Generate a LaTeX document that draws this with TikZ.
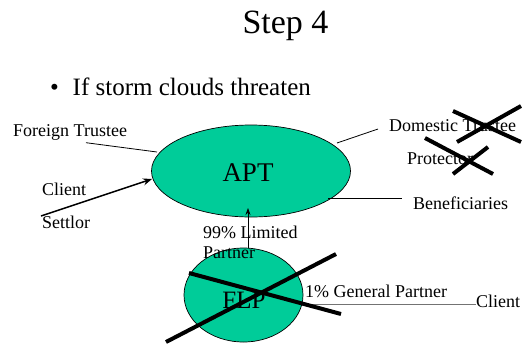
\documentclass[tikz,border=0pt]{standalone}
\usepackage{fontspec}
\setmainfont{Liberation Serif}
\usetikzlibrary{shapes.geometric,arrows.meta}
\definecolor{entfill}{RGB}{0,204,153}
\begin{document}
\begin{tikzpicture}[x=1pt,y=-1pt,
  lbl/.style={inner sep=0pt,anchor=base west,font=\fontsize{18}{20}\selectfont},
  ent/.style={ellipse,draw=black,line width=0.7pt,fill=entfill,inner sep=0pt},
  thin/.style={draw=black,line width=0.8pt},
  crossline/.style={draw=black,line width=4pt}]
\useasboundingbox (0,0) rectangle (524,343);
% title and bullet
\node[inner sep=0pt,anchor=base,font=\fontsize{34}{38}\selectfont] (title) at (285.5,33) {Step 4};
\node[inner sep=0pt,anchor=base west,font=\fontsize{25}{28}\selectfont] (bullet) at (50,95) {\textbullet\hspace{0.55em}If storm clouds threaten};
% entities
\node[ent,minimum width=199pt,minimum height=92pt] (apt) at (251,171) {};
\node[font=\fontsize{27}{30}\selectfont,inner sep=0pt] (apttxt) at (248,173) {APT};
\node[ent,minimum width=119pt,minimum height=94pt] (flp) at (243.5,295) {};
\node[font=\fontsize{25}{28}\selectfont,inner sep=0pt] (flptxt) at (244,300) {FLP};
% labels
\node[lbl] (ft) at (13,136) {Foreign Trustee};
\node[lbl] (cl) at (42,195) {Client};
\node[lbl] (st) at (42,228) {Settlor};
\node[lbl] (dt) at (389,131) {Domestic Trustee};
\node[lbl] (pr) at (407,164) {Protector};
\node[lbl] (bn) at (413,209) {Beneficiaries};
\node[lbl] (lp1) at (203,238) {99\% Limited};
\node[lbl] (lp2) at (203,258) {Partner};
\node[lbl] (gp) at (305,297) {1\% General Partner};
\node[lbl] (cl2) at (476,307) {Client};
% connector ends
\coordinate (ftend) at (86,142.7);
\coordinate (aptft) at (157,152);
\coordinate (dtend) at (378,129);
\coordinate (aptdt) at (337,143);
\coordinate (aptbn) at (328,198);
\coordinate (bnend) at (402,198);
\coordinate (stend) at (41,216);
\coordinate (aptst) at (152,179);
\coordinate (flptop) at (248,248);
\coordinate (aptbot) at (248,208);
\coordinate (flpr) at (303,304);
\coordinate (clend) at (476,304);
% connectors
\draw[thin] (ftend) -- (aptft);
\draw[thin] (aptdt) -- (dtend);
\draw[thin] (aptbn) -- (bnend);
\draw[draw=black,line width=1.5pt,-{Stealth[length=9pt,width=7pt]}] (stend) -- (aptst);
\draw[thin,-{Stealth[length=7pt,width=5pt]}] (flptop) -- (aptbot);
\draw[draw=black!55,line width=1pt] (flpr) -- (clend);
% crosses
\draw[crossline] (189,273) -- (341,314);
\draw[crossline] (166,342) -- (336,254);
\draw[crossline] (453,111) -- (521,142);
\draw[crossline] (457,142) -- (521,106);
\draw[crossline] (425,138) -- (493,174);
\draw[crossline] (453,174) -- (488,147);
\end{tikzpicture}
\end{document}
